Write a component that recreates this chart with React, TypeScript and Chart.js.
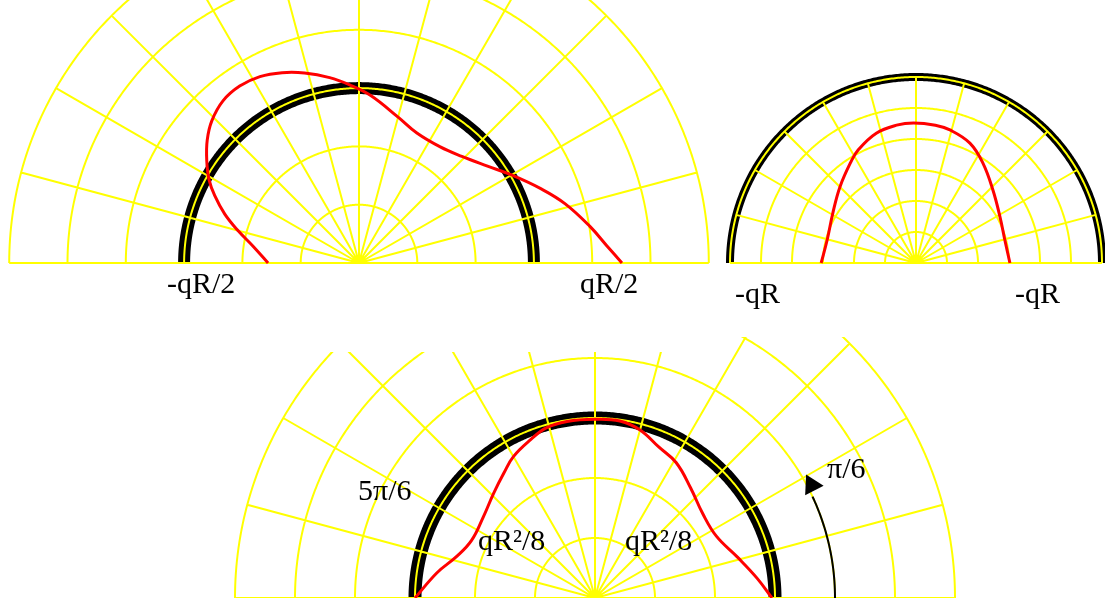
import React, { useEffect, useRef } from "react";
import { Chart, registerables } from "chart.js";

Chart.register(...registerables);

// ---- shared polar grid (degrees / ring units) ----
const spokeAngles = [0, 15, 30, 45, 60, 75, 90, 105, 120, 135, 150, 165, 180];
const ringRadii = [1, 2, 3, 4, 5, 6];

// ---- panel A (top left): red curve r(θ) ----
const curveAAngles = [0, 4, 9, 16, 22, 30, 37, 46, 55, 66, 75, 86, 93, 99, 106, 112, 118, 124, 130, 136, 141, 146, 151, 155, 160, 165, 171, 180];
const curveARadii = [4.51, 4.26, 4.01, 3.68, 3.38, 3.02, 2.76, 2.54, 2.43, 2.44, 2.59, 2.88, 3.06, 3.22, 3.39, 3.52, 3.62, 3.66, 3.63, 3.51, 3.35, 3.15, 2.94, 2.73, 2.45, 2.15, 1.84, 1.56];
const boldRingA = 3;

// ---- panel B (top right) ----
const curveBAngles = [0, 14.5, 28.7, 43.5, 56.2, 65.8, 75.7, 82, 91, 98, 107, 117, 123, 135, 149, 165.5, 180];
const curveBRadii = [3.03, 2.96, 3.09, 3.42, 3.88, 4.24, 4.43, 4.49, 4.52, 4.49, 4.38, 4.1, 3.87, 3.47, 3.13, 2.96, 3.06];
const boldRingB = 6;

// ---- panel C (bottom) ----
const curveCAngles = [0, 7, 16, 27, 38, 49, 59, 67, 75, 82, 90, 99, 106, 112, 120, 126, 134, 144, 155, 163, 171, 180];
const curveCRadii = [2.95, 2.72, 2.47, 2.27, 2.28, 2.43, 2.63, 2.73, 2.9, 2.98, 2.98, 2.98, 2.95, 2.85, 2.72, 2.58, 2.43, 2.3, 2.27, 2.4, 2.67, 3.0];
const boldRingC = 3;
const arrowArcStart = 0;
const arrowArcEnd = 25;
const arrowRadius = 4.0;
const arrowHeadAngle = 27.5;

// ---- text labels ----
const labelTexts = ["-qR/2", "qR/2", "-qR", "-qR", "5π/6", "qR²/8", "qR²/8", "π/6"];
const labelPos = [
  [167, 293], [580, 293], [735, 303], [1015, 303],
  [358, 500], [478, 550], [625, 550], [827, 478],
];

type Panel = {
  left: number; top: number; w: number; h: number;
  cx: number; cy: number; u: number;
  angles: number[]; radii: number[];
  bold: number; boldWidth: number;
  arrow?: boolean;
};

const panels: Panel[] = [
  { left: 0, top: 0, w: 720, h: 270, cx: 359, cy: 263, u: 58.3, angles: curveAAngles, radii: curveARadii, bold: boldRingA, boldWidth: 12 },
  { left: 720, top: 60, w: 385, h: 210, cx: 916, cy: 263, u: 31, angles: curveBAngles, radii: curveBRadii, bold: boldRingB, boldWidth: 8 },
  { left: 225, top: 337, w: 745, h: 261, cx: 595, cy: 598, u: 60, angles: curveCAngles, radii: curveCRadii, bold: boldRingC, boldWidth: 13, arrow: true },
];

const toXY = (r: number, deg: number) => ({
  x: r * Math.cos((deg * Math.PI) / 180),
  y: r * Math.sin((deg * Math.PI) / 180),
});

function arcPoints(r: number, a0: number, a1: number) {
  const pts: { x: number; y: number }[] = [];
  for (let a = a0; a <= a1 + 1e-9; a += 1) pts.push(toXY(r, a));
  return pts;
}

const GAP = { x: NaN, y: NaN };

function buildDatasets(p: Panel) {
  const common = { showLine: true, pointRadius: 0, fill: false, clip: false as any, tension: 0.0001, borderCapStyle: "butt", borderJoinStyle: "round" };
  const grid: any[] = [];
  for (const a of spokeAngles) grid.push(toXY(0, a), toXY(ringRadii[ringRadii.length - 1], a), GAP);
  for (const r of ringRadii) grid.push(...arcPoints(r, 0, 180), GAP);
  const ds: any[] = [
    { ...common, data: arcPoints(p.bold, 0, 180), borderColor: "#000000", borderWidth: p.boldWidth, order: 4 },
    { ...common, data: grid, borderColor: "#ffff00", borderWidth: 2, order: 3 },
    { ...common, data: p.angles.map((a, i) => toXY(p.radii[i], a)), borderColor: "#ff0000", borderWidth: 3, tension: 0.4, order: 2 },
  ];
  if (p.arrow) {
    ds.push({ ...common, data: arcPoints(arrowRadius, arrowArcStart, arrowArcEnd), borderColor: "#000000", borderWidth: 2, order: 1 });
    ds.push({
      showLine: false, clip: false, data: [toXY(arrowRadius + 0.07, arrowHeadAngle)],
      pointStyle: "triangle", pointRadius: 12, rotation: -arrowHeadAngle,
      backgroundColor: "#000000", borderColor: "#000000", borderWidth: 0, order: 0,
    });
  }
  return ds;
}

function PolarPanel({ p }: { p: Panel }) {
  const ref = useRef<HTMLCanvasElement | null>(null);
  useEffect(() => {
    if (!ref.current) return;
    const chart = new Chart(ref.current, {
      type: "scatter",
      data: { datasets: buildDatasets(p) },
      options: {
        responsive: false,
        maintainAspectRatio: false,
        animation: false,
        events: [],
        layout: { padding: 0, autoPadding: false },
        plugins: { legend: { display: false }, tooltip: { enabled: false } },
        scales: {
          x: { type: "linear", display: false, min: (p.left - p.cx) / p.u, max: (p.left + p.w - p.cx) / p.u },
          y: { type: "linear", display: false, min: (p.cy - (p.top + p.h)) / p.u, max: (p.cy - p.top) / p.u },
        },
      } as any,
    });
    return () => chart.destroy();
  }, []);
  return (
    <canvas
      ref={ref}
      width={p.w}
      height={p.h}
      style={{ position: "absolute", left: p.left, top: p.top, width: p.w, height: p.h }}
    />
  );
}

export default function App() {
  const fontSize = 30;
  return (
    <div style={{ position: "fixed", left: 0, top: 0, width: 1105, height: 598, background: "#ffffff", overflow: "hidden" }}>
      {panels.map((p, i) => (
        <PolarPanel key={i} p={p} />
      ))}
      <div style={{ position: "absolute", left: 225, top: 337, width: 475, height: 15, background: "#ffffff" }} />
      {labelTexts.map((t, i) => (
        <span
          key={i}
          style={{
            position: "absolute",
            left: labelPos[i][0],
            top: labelPos[i][1] - 0.84 * fontSize,
            font: `${fontSize}px "Liberation Serif", serif`,
            lineHeight: `${fontSize}px`,
            color: "#000",
            whiteSpace: "nowrap",
          }}
        >
          {t}
        </span>
      ))}
    </div>
  );
}
